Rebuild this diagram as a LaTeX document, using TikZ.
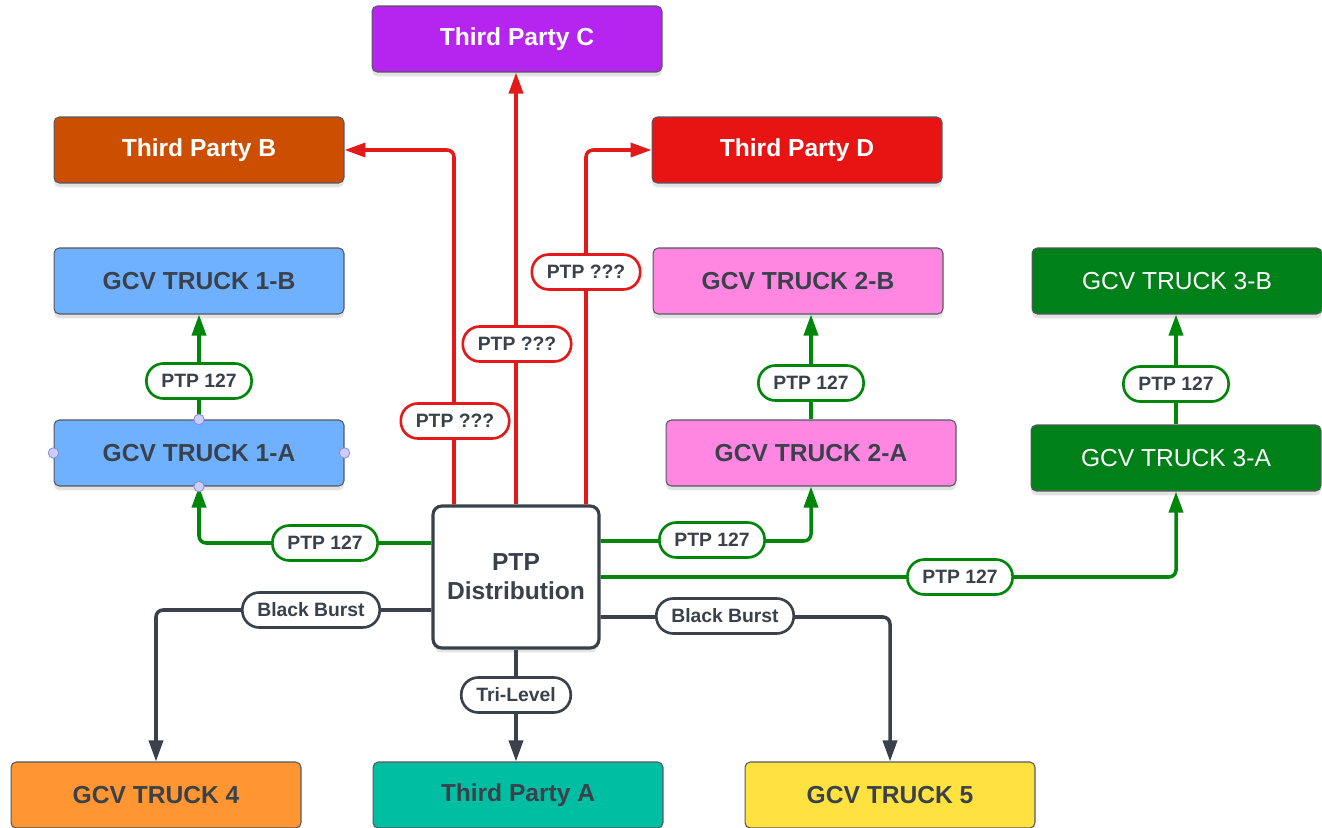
\documentclass[tikz,border=0pt]{standalone}
\usepackage{fontspec}
\setmainfont{Liberation Sans}
\usetikzlibrary{arrows.meta,calc,shadows}
\definecolor{ink}{RGB}{58,65,75}
\definecolor{boxline}{RGB}{85,88,98}
\definecolor{tpbcol}{RGB}{204,78,0}
\definecolor{tpccol}{RGB}{182,37,240}
\definecolor{tpdcol}{RGB}{232,20,20}
\definecolor{bluecol}{RGB}{111,177,255}
\definecolor{pinkcol}{RGB}{255,135,225}
\definecolor{greencol}{RGB}{0,128,24}
\definecolor{orangecol}{RGB}{255,150,50}
\definecolor{tealcol}{RGB}{0,190,162}
\definecolor{yellowcol}{RGB}{255,226,64}
\definecolor{lred}{RGB}{228,25,25}
\definecolor{lgreen}{RGB}{0,135,10}
\definecolor{hfill}{RGB}{205,205,250}
\definecolor{hline}{RGB}{140,140,220}

\begin{document}
\begin{tikzpicture}[x=0.02cm,y=-0.02cm,>={Triangle[length=0.42cm,width=0.28cm]}]
\tikzstyle{box}=[draw=boxline,line width=0.6pt,rounded corners=3pt,minimum width=5.8cm,minimum height=1.32cm,font=\fontsize{14}{16}\selectfont\bfseries,text=ink,drop shadow={shadow xshift=0pt,shadow yshift=-2.5pt,opacity=0.22}]
\tikzstyle{tag}=[draw,fill=white,line width=1.5pt,rounded corners=0.34cm,minimum height=0.7cm,inner xsep=0.3cm,font=\fontsize{11}{13}\selectfont\bfseries,text=ink]
\tikzstyle{wire}=[line width=2pt,rounded corners=4pt]
\tikzstyle{handle}=[circle,draw=hline,fill=hfill,line width=0.5pt,inner sep=0pt,minimum size=0.21cm]
\useasboundingbox (0,0) rectangle (1322,828);
% boxes
\node[box,fill=tpccol,text=white] (tpC) at (517,39) {Third Party C};
\node[box,fill=tpbcol,text=white] (tpB) at (199,150) {Third Party B};
\node[box,fill=tpdcol,text=white] (tpD) at (797,150) {Third Party D};
\node[box,fill=bluecol] (t1b) at (199,281) {GCV TRUCK 1-B};
\node[box,fill=bluecol] (t1a) at (199,453) {GCV TRUCK 1-A};
\node[box,fill=pinkcol] (t2b) at (798,281) {GCV TRUCK 2-B};
\node[box,fill=pinkcol] (t2a) at (811,453) {GCV TRUCK 2-A};
\node[box,fill=greencol,text=white,font=\fontsize{14}{16}\selectfont] (t3b) at (1177,281) {GCV TRUCK 3-B};
\node[box,fill=greencol,text=white,font=\fontsize{14}{16}\selectfont] (t3a) at (1176,458) {GCV TRUCK 3-A};
\node[box,fill=orangecol] (t4) at (156,795) {GCV TRUCK 4};
\node[box,fill=tealcol] (tpA) at (518,795) {Third Party A};
\node[box,fill=yellowcol] (t5) at (890,795) {GCV TRUCK 5};
\node[draw=ink,fill=white,line width=1.8pt,rounded corners=5pt,minimum width=3.32cm,minimum height=2.84cm,align=center,text=ink,font=\fontsize{14}{16.5}\selectfont\bfseries,drop shadow={shadow xshift=0pt,shadow yshift=-2.5pt,opacity=0.22}] (ptp) at (516,577) {PTP\\Distribution};
% red links
\draw[wire,lred,->] ($(ptp.north)+(-62,0)$) |- (tpB.east);
\draw[wire,lred,->] (ptp.north) -- (ptp.north |- tpC.south);
\draw[wire,lred,->] ($(ptp.north)+(70,0)$) |- (tpD.west);
% green links
\draw[wire,lgreen,->] ($(ptp.west)+(0,-34)$) -| (t1a.south);
\draw[wire,lgreen,->] (t1a.north) -- (t1b.south);
\draw[wire,lgreen,->] ($(ptp.east)+(0,-36)$) -| (t2a.south);
\draw[wire,lgreen,->] (t2a.north) -- (t2a.north |- t2b.south);
\draw[wire,lgreen,->] (ptp.east) -| (t3a.south);
\draw[wire,lgreen,->] (t3a.north) -- (t3a.north |- t3b.south);
% dark links
\draw[wire,ink,->] ($(ptp.west)+(0,33)$) -| (t4.north);
\draw[wire,ink,->] (ptp.south) -- (ptp.south |- tpA.north);
\draw[wire,ink,->] ($(ptp.east)+(0,40)$) -| (t5.north);
% tags
\node[tag,draw=lred] (q1) at (455,421) {PTP ???};
\node[tag,draw=lred] (q2) at (517,344) {PTP ???};
\node[tag,draw=lred] (q3) at (586,272) {PTP ???};
\node[tag,draw=lgreen] (g1) at (325,543) {PTP 127};
\node[tag,draw=lgreen] (g2) at (199,381) {PTP 127};
\node[tag,draw=lgreen] (g3) at (712,540) {PTP 127};
\node[tag,draw=lgreen] (g4) at (811,383) {PTP 127};
\node[tag,draw=lgreen] (g5) at (960,577) {PTP 127};
\node[tag,draw=lgreen] (g6) at (1176,384) {PTP 127};
\node[tag,draw=ink] (b1) at (311,610) {Black Burst};
\node[tag,draw=ink] (b2) at (725,616) {Black Burst};
\node[tag,draw=ink] (b3) at (516,695) {Tri-Level};
% selection handles
\foreach \a in {north,south,east,west} \node[handle] (h\a) at (t1a.\a) {};
\end{tikzpicture}
\end{document}
